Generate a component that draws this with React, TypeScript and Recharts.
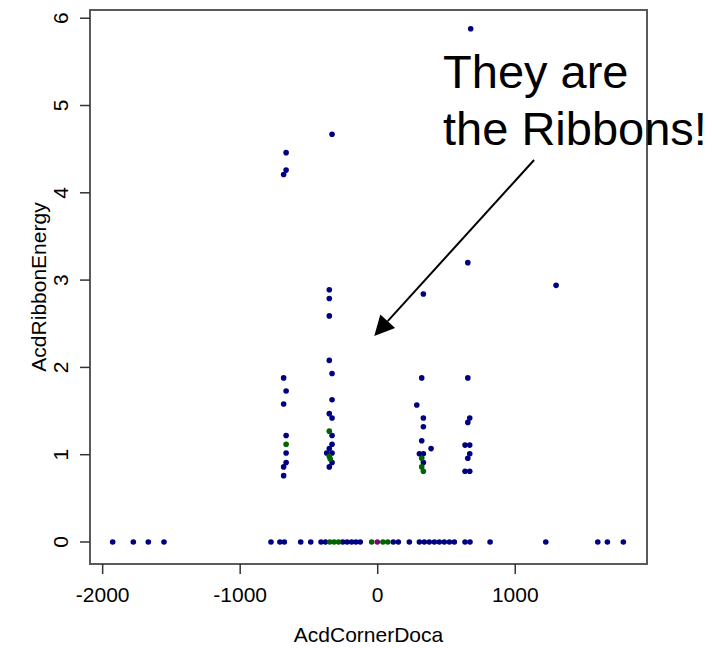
import React from 'react';
import {
  ScatterChart,
  Scatter,
  XAxis,
  YAxis,
  ReferenceArea,
  ReferenceLine,
  ReferenceDot,
} from 'recharts';

// ---- axis ticks & domains ----
const xTicks = [-2000, -1000, 0, 1000];
const yTicks = [0, 1, 2, 3, 4, 5, 6];
const xDomain: [number, number] = [-2092, 1958];
const yDomain: [number, number] = [-0.252, 6.094];

// ---- data (AcdCornerDoca vs AcdRibbonEnergy) ----
const blueX = [
  -1927, -1777, -1668, -1554, -776, -711, -679, -560, -487, -412, -380, -254, -222, -190, -159, -127,
  113, 150, 230, 303, 339, 375, 412, 448, 484, 521, 557, 635, 671, 817, 1222, 1600, 1670, 1786,
  -666, -666, -684, -684, -666, -684, -666, -666, -666, -684, -684,
  -332, -352, -352, -352, -352, -332, -332, -352, -332, -332, -332, -352, -371, -332, -332, -352,
  332, 320, 284, 332, 332, 320, 388, 303, 332, 332,
  676, 655, 655, 669, 655, 635, 669, 669, 655, 635, 669,
  1297,
];
const blueY = [
  0, 0, 0, 0, 0, 0, 0, 0, 0, 0, 0, 0, 0, 0, 0, 0,
  0, 0, 0, 0, 0, 0, 0, 0, 0, 0, 0, 0, 0, 0, 0, 0, 0, 0,
  4.46, 4.26, 4.21, 1.88, 1.73, 1.58, 1.22, 1.02, 0.91, 0.86, 0.76,
  4.67, 2.89, 2.79, 2.59, 2.08, 1.93, 1.63, 1.47, 1.42, 1.22, 1.12, 1.07, 1.02, 1.02, 0.91, 0.86,
  2.84, 1.88, 1.57, 1.42, 1.32, 1.16, 1.07, 1.01, 1.01, 0.91,
  5.88, 3.2, 1.88, 1.42, 1.37, 1.11, 1.11, 1.01, 0.96, 0.81, 0.81,
  2.94,
];
const greenX = [-349, -317, -285, -44, 38, 73, -666, -352, -352, -345, 320, 320, 332];
const greenY = [0, 0, 0, 0, 0, 0, 1.12, 1.27, 0.98, 0.95, 0.96, 0.86, 0.81];
const purpleX = [-3];
const purpleY = [0];

// ---- annotation ----
const noteLines = ['They are', 'the Ribbons!'];
const noteAnchor = { x: 475, y: 5.2 };
const arrowFrom = { x: 1137, y: 4.376 };
const arrowTo = { x: -25, y: 2.36 };

const toPoints = (xs: number[], ys: number[]) => xs.map((x, i) => ({ x, y: ys[i] }));
const bluePts = toPoints(blueX, blueY);
const greenPts = toPoints(greenX, greenY);
const purplePts = toPoints(purpleX, purpleY);

const FONT = '"Liberation Sans", Arial, Helvetica, sans-serif';
const FS = 21;

const dot = (color: string) => (props: any) =>
  <circle cx={props.cx} cy={props.cy} r={2.8} fill={color} />;

const YTick = (props: any) => {
  const { x, y, payload } = props;
  return (
    <text
      x={x}
      y={y}
      transform={`rotate(-90 ${x} ${y})`}
      textAnchor="middle"
      fontSize={FS}
      fontFamily={FONT}
      fill="#000"
    >
      {payload.value}
    </text>
  );
};

const YTitle = (props: any) => {
  const vb = props.viewBox || { x: 0, y: 0, width: 0, height: 0 };
  const x = vb.x + 38;
  const y = vb.y + vb.height / 2;
  return (
    <text x={x} y={y} transform={`rotate(-90 ${x} ${y})`} textAnchor="middle" fontSize={FS} fontFamily={FONT} fill="#000">
      AcdRibbonEnergy
    </text>
  );
};

const XTitle = (props: any) => {
  const vb = props.viewBox || { x: 0, y: 0, width: 0, height: 0 };
  return (
    <text x={vb.x + vb.width / 2} y={vb.y + 78} textAnchor="middle" fontSize={FS} fontFamily={FONT} fill="#000">
      AcdCornerDoca
    </text>
  );
};

const Arrow = (props: any) => {
  const { x1, y1, x2, y2 } = props;
  const dx = x2 - x1;
  const dy = y2 - y1;
  const len = Math.sqrt(dx * dx + dy * dy) || 1;
  const ux = dx / len;
  const uy = dy / len;
  const hl = 20;
  const hw = 10;
  const bx = x2 - ux * hl;
  const by = y2 - uy * hl;
  const p1 = `${bx - uy * hw},${by + ux * hw}`;
  const p2 = `${bx + uy * hw},${by - ux * hw}`;
  return (
    <g>
      <line x1={x1} y1={y1} x2={bx} y2={by} stroke="#000" strokeWidth={2} />
      <polygon points={`${x2},${y2} ${p1} ${p2}`} fill="#000" />
    </g>
  );
};

const Note = (props: any) => {
  const { cx, cy } = props;
  return (
    <text x={cx} y={cy} fontSize={47} fontFamily={FONT} fill="#000">
      {noteLines.map((t, i) => (
        <tspan key={i} x={cx} dy={i === 0 ? 0 : 57}>
          {t}
        </tspan>
      ))}
    </text>
  );
};

export default function App() {
  return (
    <div style={{ width: 704, height: 640, background: '#fff' }}>
      <ScatterChart
        width={704}
        height={640}
        margin={{ top: 2, right: 65, bottom: 0, left: 0 }}
      >
        <XAxis
          dataKey="x"
          type="number"
          domain={xDomain}
          ticks={xTicks}
          allowDataOverflow
          axisLine={false}
          tickLine={{ stroke: '#333', strokeWidth: 1.5 }}
          tickSize={10}
          tickMargin={13}
          tick={{ fontSize: FS, fill: '#000', fontFamily: FONT }}
          height={84}
          interval={0}
          label={<XTitle />}
        />
        <YAxis
          dataKey="y"
          type="number"
          domain={yDomain}
          ticks={yTicks}
          allowDataOverflow
          axisLine={false}
          tickLine={{ stroke: '#333', strokeWidth: 1.5 }}
          tickSize={10}
          tickMargin={12}
          tick={<YTick />}
          width={82}
          interval={0}
          label={<YTitle />}
        />
        <ReferenceArea
          x1={xDomain[0]}
          x2={xDomain[1]}
          y1={yDomain[0]}
          y2={yDomain[1]}
          fill="none"
          fillOpacity={0}
          stroke="#5a5a5a"
          strokeWidth={2}
          ifOverflow="visible"
        />
        <Scatter data={bluePts} isAnimationActive={false} shape={dot('#000080')} />
        <Scatter data={greenPts} isAnimationActive={false} shape={dot('#006400')} />
        <Scatter data={purplePts} isAnimationActive={false} shape={dot('#800080')} />
        <ReferenceLine
          segment={[arrowFrom, arrowTo]}
          ifOverflow="visible"
          shape={<Arrow />}
        />
        <ReferenceDot
          x={noteAnchor.x}
          y={noteAnchor.y}
          r={0}
          ifOverflow="visible"
          shape={<Note />}
        />
      </ScatterChart>
    </div>
  );
}
